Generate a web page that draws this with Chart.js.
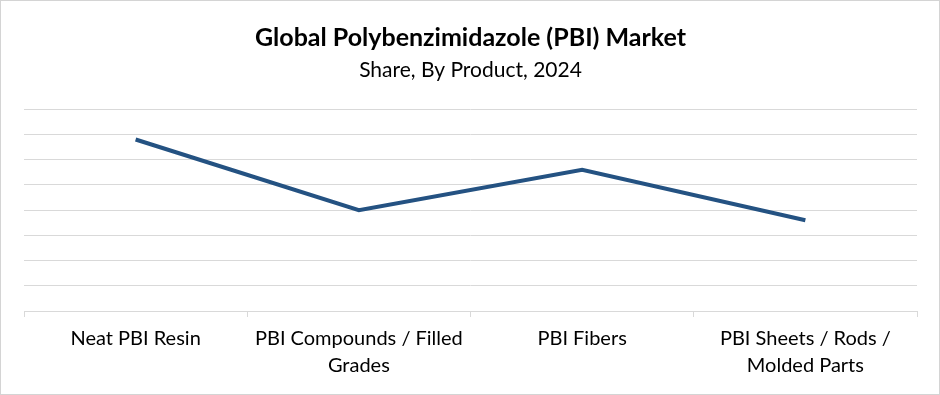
<!DOCTYPE html>
<html lang="en">
<head>
  <meta charset="UTF-8">
  <title>Global Polybenzimidazole (PBI) Market</title>
  <script src="https://cdn.jsdelivr.net/npm/chart.js"></script>
  <style>
    body {
      margin: 0;
      background: #fff;
    }
    #chart-container {
      width: 938px;
      height: 393px;
      border: 1px solid #d4d4d4;
      background: #fff;
    }
  </style>
</head>
<body>

  <div id="chart-container">
    <canvas id="chart"></canvas>
  </div>

  <script>
    const products = [
      ['Neat PBI Resin'],
      ['PBI Compounds / Filled', 'Grades'],
      ['PBI Fibers'],
      ['PBI Sheets / Rods /', 'Molded Parts']
    ];
    const shares = [34, 20, 28, 18];
    const yTicks = [0, 5, 10, 15, 20, 25, 30, 35, 40];

    const gridColor = '#d9d9d9';
    const fontFamily = 'Lato, "Open Sans", sans-serif';

    const ctx = document.getElementById('chart').getContext('2d');
    new Chart(ctx, {
      type: 'line',
      data: {
        labels: products,
        datasets: [{
          label: 'Share',
          data: shares,
          borderColor: '#245282',
          borderWidth: 4,
          pointRadius: 0,
          fill: false,
          tension: 0
        }]
      },
      options: {
        responsive: true,
        maintainAspectRatio: false,
        animation: false,
        layout: {
          padding: { left: 23, right: 22, top: 0, bottom: 7 }
        },
        plugins: {
          legend: { display: false },
          tooltip: { enabled: false },
          title: {
            display: true,
            text: 'Global Polybenzimidazole (PBI) Market',
            color: '#000',
            font: { family: fontFamily, size: 25, weight: 'bold' },
            padding: { top: 22, bottom: 5 }
          },
          subtitle: {
            display: true,
            text: 'Share, By Product, 2024',
            color: '#000',
            font: { family: fontFamily, size: 21 },
            padding: { top: 0, bottom: 26 }
          }
        },
        scales: {
          x: {
            offset: true,
            grid: {
              offset: true,
              drawOnChartArea: false,
              drawTicks: true,
              tickLength: 6,
              color: gridColor
            },
            border: { color: gridColor, width: 1 },
            ticks: {
              color: '#000',
              font: { family: fontFamily, size: 20, lineHeight: 1.35 },
              maxRotation: 0,
              autoSkip: false,
              padding: 8
            }
          },
          y: {
            min: 0,
            max: 40,
            afterBuildTicks: axis => {
              axis.ticks = yTicks.map(v => ({ value: v }));
            },
            ticks: { display: false },
            border: { display: false },
            grid: {
              color: gridColor,
              lineWidth: 1,
              drawTicks: false
            }
          }
        }
      }
    });
  </script>

</body>
</html>
